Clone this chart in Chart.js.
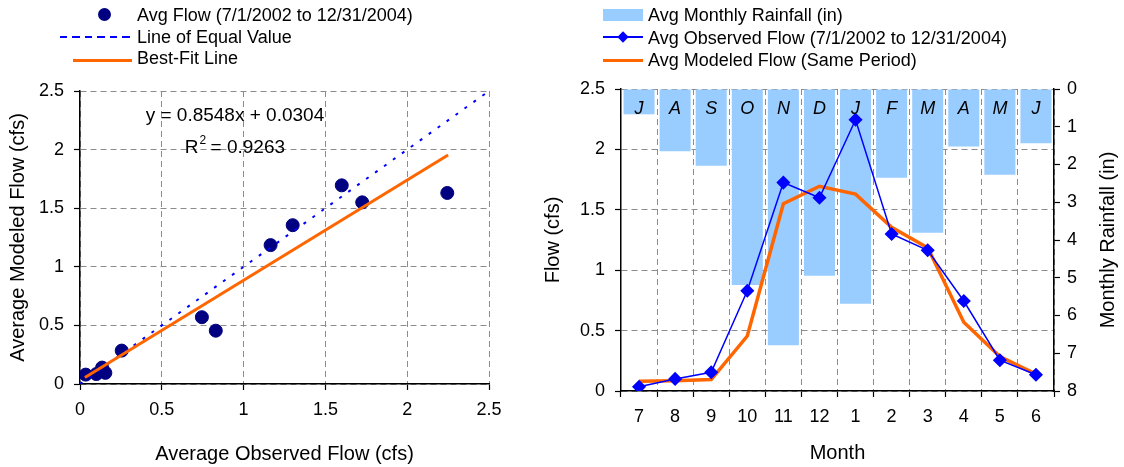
<!DOCTYPE html>
<html>
<head>
<meta charset="utf-8">
<script src="https://cdn.jsdelivr.net/npm/chart.js@4.4.1/dist/chart.umd.min.js"></script>
<style>
  body { margin: 0; background: #fff; font-family: "Liberation Sans", Arial, sans-serif; }
  #wrap { position: relative; width: 1124px; height: 467px; overflow: hidden; }
  canvas { position: absolute; top: 0; }
  .lg { position: absolute; font-size: 18px; line-height: 22px; white-space: nowrap; color: #000; }
  .sw { position: absolute; }
</style>
</head>
<body>
<div id="wrap">
  <canvas id="scatterChart" width="530" height="467" style="left:0"></canvas>
  <canvas id="monthChart" width="594" height="467" style="left:530px"></canvas>

  <!-- left legend -->
  <div class="sw" style="left:98px;top:8px;width:13px;height:13px;border-radius:50%;background:#000080"></div>
  <div class="lg" style="left:137px;top:3.5px">Avg Flow (7/1/2002 to 12/31/2004)</div>
  <div class="sw" style="left:60px;top:36px;width:75px;height:2px;background:repeating-linear-gradient(90deg,#0000ff 0 7px,transparent 7px 12.5px)"></div>
  <div class="lg" style="left:137px;top:26px">Line of Equal Value</div>
  <div class="sw" style="left:73px;top:58.5px;width:59px;height:3px;background:#ff6600"></div>
  <div class="lg" style="left:137px;top:46.5px">Best-Fit Line</div>

  <!-- right legend -->
  <div class="sw" style="left:603px;top:9px;width:40px;height:12px;background:#99ccff"></div>
  <div class="lg" style="left:648px;top:3.5px">Avg Monthly Rainfall (in)</div>
  <div class="sw" style="left:603px;top:36px;width:40px;height:2px;background:#0000ff"></div>
  <div class="sw" style="left:619px;top:33px;width:8px;height:8px;background:#0000ff;transform:rotate(45deg)"></div>
  <div class="lg" style="left:648px;top:26.5px">Avg Observed Flow (7/1/2002 to 12/31/2004)</div>
  <div class="sw" style="left:603px;top:58.5px;width:40px;height:3px;background:#ff6600"></div>
  <div class="lg" style="left:648px;top:49px">Avg Modeled Flow (Same Period)</div>
</div>

<script>
// Data
const months = ["7", "8", "9", "10", "11", "12", "1", "2", "3", "4", "5", "6"];
const monthLetters = ["J", "A", "S", "O", "N", "D", "J", "F", "M", "A", "M", "J"];
const observedFlow = [0.035, 0.10, 0.155, 0.83, 1.725, 1.60, 2.245, 1.30, 1.165, 0.745, 0.255, 0.135];
const modeledFlow = [0.08, 0.085, 0.095, 0.455, 1.55, 1.695, 1.63, 1.355, 1.185, 0.57, 0.285, 0.14];
const rainfall = [0.67, 1.65, 2.03, 5.19, 6.79, 4.95, 5.69, 2.35, 3.81, 1.52, 2.27, 1.44];
const equalValueLine = [{ x: 0, y: 0 }, { x: 2.5, y: 2.5 }];
const bestFitLine = [{ x: 0.03, y: 0.056 }, { x: 2.25, y: 1.954 }];
const flowTicks = [0, 0.5, 1, 1.5, 2, 2.5];
const rainTicks = [0, 1, 2, 3, 4, 5, 6, 7, 8];
const fitEquation = "y = 0.8548x + 0.0304";
const fitR2 = "= 0.9263";
const rainTitle = "Monthly Rainfall (in)";

const FONT = "'Liberation Sans', Arial, sans-serif";
Chart.defaults.font.family = FONT;
Chart.defaults.font.size = 18;
Chart.defaults.color = "#000";

// scatter points pair each month's observed and modeled flow
const flowPairs = observedFlow.map((x, i) => ({ x: x, y: modeledFlow[i] }));

function fixBox(size) {
  return (s) => {
    if (s.isHorizontal()) s.height = size; else s.width = size;
    s.paddingLeft = 0; s.paddingRight = 0; s.paddingTop = 0; s.paddingBottom = 0;
  };
}
function useTicks(list) {
  return (s) => { s.ticks = list.map(v => ({ value: v })); };
}
const gridDashed = { color: "#8c8c8c", lineWidth: 1, tickColor: "#000", tickLength: 6, tickWidth: 1.2, tickBorderDash: [] };
const borderSolid = { color: "#000", width: 1.5, dash: [6, 4] };

// regression text on the scatter
const equationText = {
  id: "equationText",
  afterDatasetsDraw(chart) {
    const { ctx, scales: { x, y } } = chart;
    ctx.save();
    ctx.fillStyle = "#000";
    ctx.textBaseline = "middle";
    ctx.font = "19px " + FONT;
    ctx.textAlign = "center";
    const cx = x.getPixelForValue(0.947);
    ctx.fillText(fitEquation, cx, y.getPixelForValue(2.285));
    // R² line
    const ry = y.getPixelForValue(2.012);
    const wR = ctx.measureText("R").width;
    const wRest = ctx.measureText(" " + fitR2).width;
    ctx.font = "12px " + FONT;
    const w2 = ctx.measureText("2").width;
    let sx = cx - (wR + w2 + wRest) / 2;
    ctx.textAlign = "left";
    ctx.font = "19px " + FONT;
    ctx.fillText("R", sx, ry);
    ctx.font = "12px " + FONT;
    ctx.fillText("2", sx + wR + 1, ry - 8);
    ctx.font = "19px " + FONT;
    ctx.fillText(" " + fitR2, sx + wR + w2, ry);
    ctx.restore();
  }
};

new Chart(document.getElementById("scatterChart"), {
  type: "scatter",
  data: {
    datasets: [
      { type: "line", label: "Best-Fit Line", data: bestFitLine, borderColor: "#ff6600", borderWidth: 3, pointRadius: 0, order: 0 },
      { type: "line", label: "Line of Equal Value", data: equalValueLine, borderColor: "#0000ff", borderWidth: 2, borderDash: [3, 8], pointRadius: 0, order: 1 },
      { label: "Avg Flow (7/1/2002 to 12/31/2004)", data: flowPairs, backgroundColor: "#000080", borderColor: "#000080", pointRadius: 6.5, order: 2 }
    ]
  },
  options: {
    responsive: false,
    animation: false,
    layout: { padding: { top: 91, right: 41, bottom: 0, left: 0 } },
    plugins: { legend: { display: false }, tooltip: { enabled: false } },
    scales: {
      x: {
        type: "linear", min: 0, max: 2.5,
        afterBuildTicks: useTicks(flowTicks),
        afterFit: fixBox(83),
        ticks: { padding: 9, callback: v => String(v) },
        grid: gridDashed,
        border: borderSolid,
        title: { display: true, text: "Average Observed Flow (cfs)", font: { size: 20 }, padding: { top: 0, bottom: 1 } }
      },
      y: {
        type: "linear", min: 0, max: 2.5,
        afterBuildTicks: useTicks(flowTicks),
        afterFit: fixBox(80),
        ticks: { padding: 10, callback: v => String(v) },
        grid: gridDashed,
        border: borderSolid,
        title: { display: true, text: "Average Modeled Flow (cfs)", font: { size: 20 }, padding: { top: 6, bottom: 0 } }
      }
    }
  },
  plugins: [equationText]
});

// month initials inside the rainfall bars, and the right axis title read bottom-to-top
const barLetters = {
  id: "barLetters",
  afterDatasetsDraw(chart) {
    const meta = chart.getDatasetMeta(2);
    const ctx = chart.ctx;
    ctx.save();
    ctx.font = "italic 18px " + FONT;
    ctx.fillStyle = "#000";
    ctx.textAlign = "center";
    ctx.textBaseline = "middle";
    meta.data.forEach((bar, i) => ctx.fillText(monthLetters[i], bar.x, chart.chartArea.top + 20));
    ctx.restore();
  },
  afterDraw(chart) {
    const s = chart.scales.y2;
    const ctx = chart.ctx;
    ctx.save();
    ctx.font = "20px " + FONT;
    ctx.fillStyle = "#000";
    ctx.textAlign = "center";
    ctx.textBaseline = "middle";
    ctx.translate(s.right - 16, (s.top + s.bottom) / 2);
    ctx.rotate(-Math.PI / 2);
    ctx.fillText(rainTitle, 0, 0);
    ctx.restore();
  }
};

new Chart(document.getElementById("monthChart"), {
  type: "bar",
  data: {
    labels: months,
    datasets: [
      { type: "line", label: "Avg Observed Flow (7/1/2002 to 12/31/2004)", data: observedFlow, yAxisID: "y",
        borderColor: "#0000ff", backgroundColor: "#0000ff", borderWidth: 1.5, pointStyle: "rectRot", pointRadius: 6, order: 0 },
      { type: "line", label: "Avg Modeled Flow (Same Period)", data: modeledFlow, yAxisID: "y",
        borderColor: "#ff6600", borderWidth: 3.5, pointRadius: 0, order: 1 },
      { type: "bar", label: "Avg Monthly Rainfall (in)", data: rainfall, yAxisID: "y2",
        backgroundColor: "#99ccff", barPercentage: 0.86, categoryPercentage: 1, order: 2 }
    ]
  },
  options: {
    responsive: false,
    animation: false,
    layout: { padding: { top: 89, right: 0, bottom: 0, left: 0 } },
    plugins: { legend: { display: false }, tooltip: { enabled: false } },
    scales: {
      x: {
        afterFit: fixBox(76),
        ticks: { padding: 9 },
        grid: Object.assign({}, gridDashed, { offset: true }),
        border: borderSolid,
        title: { display: true, text: "Month", font: { size: 20 }, padding: { top: 0, bottom: 2 } }
      },
      y: {
        position: "left", min: 0, max: 2.5,
        afterBuildTicks: useTicks(flowTicks),
        afterFit: fixBox(91),
        ticks: { padding: 10, callback: v => String(v) },
        grid: gridDashed,
        border: borderSolid,
        title: { display: true, text: "Flow (cfs)", font: { size: 20 }, padding: { top: 11, bottom: 0 } }
      },
      y2: {
        position: "right", min: 0, max: 8, reverse: true,
        afterBuildTicks: useTicks(rainTicks),
        afterFit: fixBox(70),
        ticks: { padding: 7, callback: v => String(v) },
        grid: { drawOnChartArea: false, tickColor: "#000", tickLength: 6, tickWidth: 1.2 },
        border: { color: "#000", width: 1.5 }
      }
    }
  },
  plugins: [barLetters]
});
</script>
</body>
</html>
